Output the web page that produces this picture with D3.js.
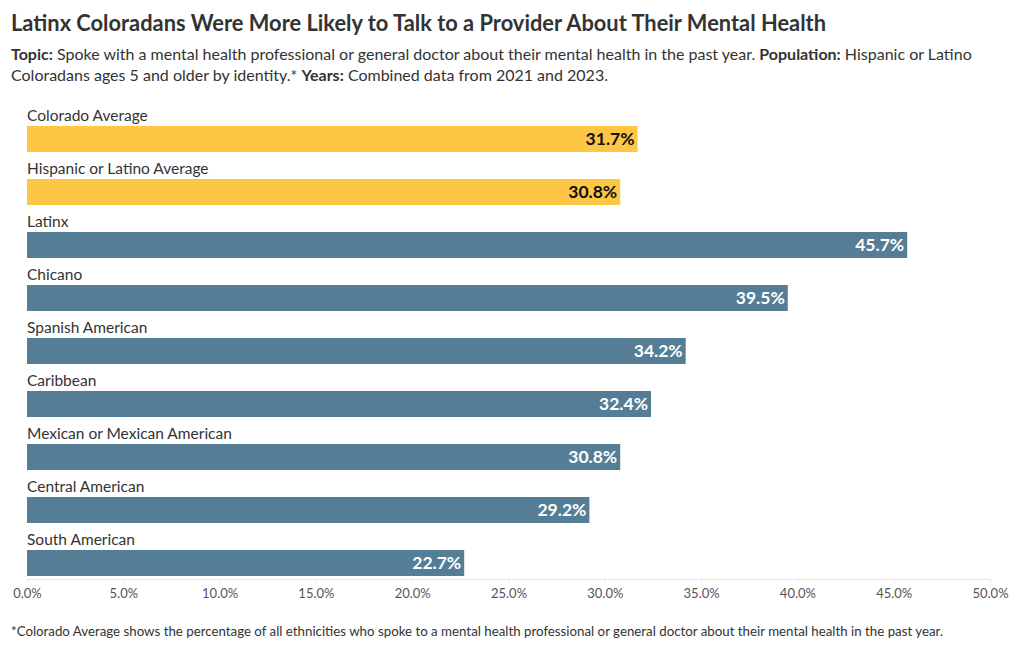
<!DOCTYPE html>
<html>
<head>
<meta charset="utf-8">
<script src="https://cdn.jsdelivr.net/npm/d3@7"></script>
<style>
  html, body { margin: 0; padding: 0; background: #fff; }
  svg { display: block; font-family: "Lato", "Open Sans", sans-serif; }
</style>
</head>
<body>
<svg id="chart" width="1020" height="650"></svg>
<script>
const categories = ["Colorado Average", "Hispanic or Latino Average", "Latinx", "Chicano", "Spanish American", "Caribbean", "Mexican or Mexican American", "Central American", "South American"];
const values = [31.7, 30.8, 45.7, 39.5, 34.2, 32.4, 30.8, 29.2, 22.7];
const groups = ["avg", "avg", "id", "id", "id", "id", "id", "id", "id"];
const xTicks = [0, 5, 10, 15, 20, 25, 30, 35, 40, 45, 50];

const title = "Latinx Coloradans Were More Likely to Talk to a Provider About Their Mental Health";
const subtitle1 = [["Topic:", true], [" Spoke with a mental health professional or general doctor about their mental health in the past year. ", false], ["Population:", true], [" Hispanic or Latino", false]];
const subtitle2 = [["Coloradans ages 5 and older by identity.* ", false], ["Years:", true], [" Combined data from 2021 and 2023.", false]];
const footnote = "*Colorado Average shows the percentage of all ethnicities who spoke to a mental health professional or general doctor about their mental health in the past year.";

const svg = d3.select("#chart");
const colors = { avg: "#FDC645", id: "#557E96" };
const labelColors = { avg: "#111", id: "#fff" };

// Title
svg.append("text").attr("x", 11).attr("y", 31)
  .attr("font-size", 22).attr("font-weight", 700).attr("fill", "#333")
  .attr("textLength", 815).attr("lengthAdjust", "spacingAndGlyphs")
  .text(title);

function richLine(parts, y) {
  const t = svg.append("text").attr("x", 11).attr("y", y)
    .attr("font-size", 16).attr("fill", "#333").style("white-space", "pre");
  parts.forEach(([s, b]) => t.append("tspan").attr("font-weight", b ? 700 : 400).text(s));
}
richLine(subtitle1, 60);
richLine(subtitle2, 81);

// Scales
const x = d3.scaleLinear().domain([0, 50]).range([27, 990]);
const rowTop = 107, rowStep = 53;
const y = d3.scaleBand().domain(categories).range([rowTop, rowTop + rowStep * categories.length]).paddingInner(0).paddingOuter(0);
const barOffset = 19, barH = 26;

// Axis
const axis = d3.axisBottom(x).tickValues(xTicks).tickFormat(d => d.toFixed(1) + "%").tickSize(4).tickPadding(6);
const ag = svg.append("g").attr("transform", "translate(0,579)").call(axis);
ag.select(".domain").attr("stroke", "#e6e6e6");
ag.selectAll(".tick line").attr("stroke", "#e6e6e6");
ag.selectAll(".tick text").attr("fill", "#555").attr("font-size", 13).attr("font-family", "Lato, sans-serif");

const data = categories.map((c, i) => ({ c, v: values[i], g: groups[i] }));

const rows = svg.append("g").selectAll("g").data(data).join("g");
rows.append("text")
  .attr("x", x(0)).attr("y", d => y(d.c) + barOffset - 5)
  .attr("font-size", 15.5).attr("fill", "#333")
  .text(d => d.c);
rows.append("rect")
  .attr("x", x(0)).attr("y", d => y(d.c) + barOffset)
  .attr("width", d => x(d.v) - x(0)).attr("height", barH)
  .attr("fill", d => colors[d.g]);
rows.append("text")
  .attr("x", d => x(d.v) - 3).attr("y", d => y(d.c) + barOffset + barH / 2 + 6)
  .attr("text-anchor", "end").attr("font-size", 17.5).attr("font-weight", 700)
  .attr("fill", d => labelColors[d.g])
  .text(d => d.v.toFixed(1) + "%");

// Footnote
svg.append("text").attr("x", 11).attr("y", 636)
  .attr("font-size", 13).attr("fill", "#333")
  .attr("textLength", 932).attr("lengthAdjust", "spacingAndGlyphs")
  .text(footnote);
</script>
</body>
</html>
